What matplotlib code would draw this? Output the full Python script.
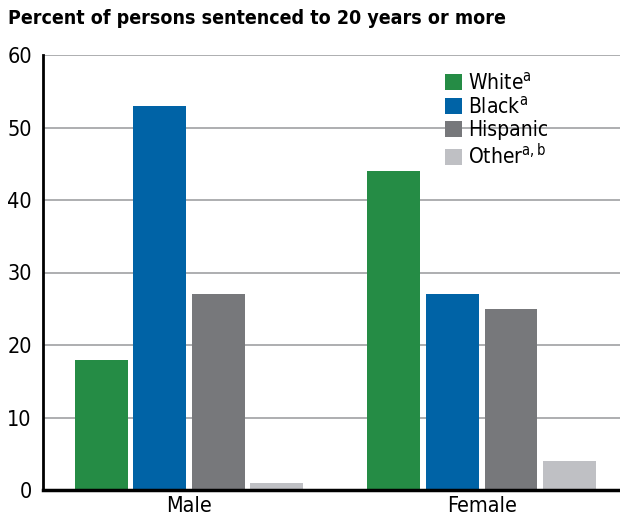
import numpy as np
from matplotlib import pyplot as plt

plt.rcParams['font.family'] = ['DejaVu Sans']
plt.rcParams['font.stretch'] = 'condensed'

groups = ['Male', 'Female']
races = ['White$^{\\mathregular{a}}$', 'Black$^{\\mathregular{a}}$', 'Hispanic', 'Other$^{\\mathregular{a,b}}$']
white = [18, 44]
black = [53, 27]
hispanic = [27, 25]
other = [1, 4]
colors = ['#258c45', '#0063a6', '#77787b', '#bfc0c4']
yticks = [0, 10, 20, 30, 40, 50, 60]

fig = plt.figure(figsize=(6.2, 5.18), dpi=100)
ax = fig.add_axes([43/620, 28/518, 577/620, 435/518])

x = np.arange(len(groups))
offsets = [-0.3, -0.1, 0.1, 0.3]
for series, off, col, lab in zip([white, black, hispanic, other], offsets, colors, races):
    ax.bar(x + off, series, width=0.18, color=col, label=lab, zorder=3)

ax.set_xlim(-0.499, 1.473)
ax.set_ylim(0, 60)
ax.set_yticks(yticks)
ax.set_xticks(x)
ax.set_xticklabels(groups)
ax.tick_params(axis='both', length=0, labelsize=15.5, pad=4)
ax.tick_params(axis='y', pad=8)
ax.grid(axis='y', color='#a7a8aa', linewidth=1.3, zorder=0)

for s in ['top', 'right']:
    ax.spines[s].set_visible(False)
ax.spines['left'].set_linewidth(2)
ax.spines['bottom'].set_linewidth(2.5)
ax.spines['left'].set_zorder(4)
ax.spines['bottom'].set_zorder(4)

ax.legend(loc='upper left', bbox_to_anchor=(0.683, 0.982), frameon=False,
          fontsize=15, handlelength=0.8, handleheight=0.8, handletextpad=0.3,
          labelspacing=0.12, borderaxespad=0)

fig.text(8/620, 1 - 18/518, 'Percent of persons sentenced to 20 years or more',
         fontsize=14, fontweight='bold', va='center', ha='left')

plt.savefig('out.png', dpi=100)
